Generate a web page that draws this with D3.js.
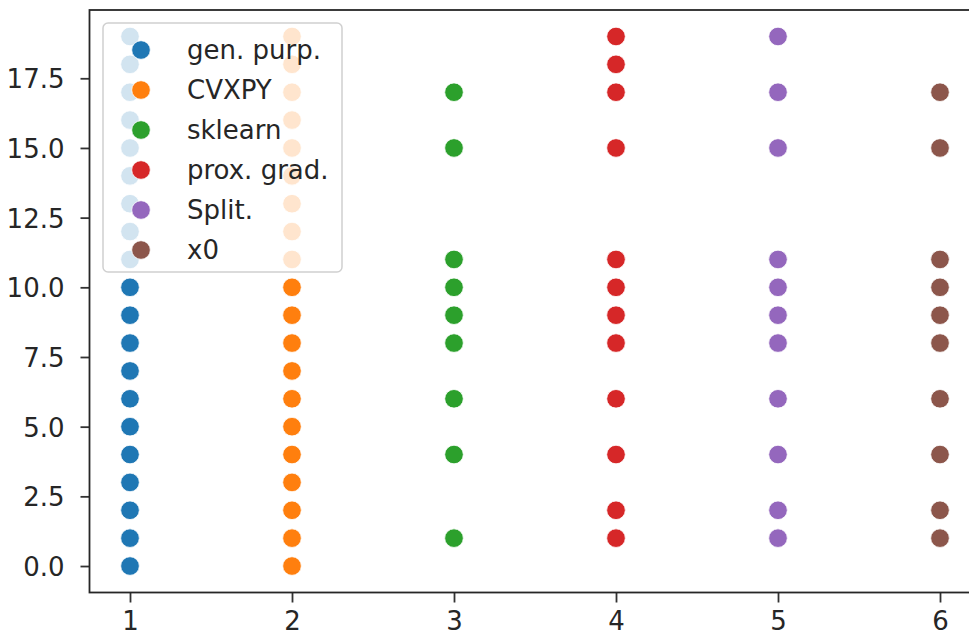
<!DOCTYPE html>
<html>
<head>
<meta charset="utf-8">
<script src="https://cdn.jsdelivr.net/npm/d3@7"></script>
<style>
  body { margin: 0; background: #fff; }
  svg text { font-family: "DejaVu Sans", sans-serif; fill: #262626; }
</style>
</head>
<body>
<div id="chart"></div>
<script>
// series names, x position of each series and the y values
const seriesNames = ['gen. purp.', 'CVXPY', 'sklearn', 'prox. grad.', 'Split.', 'x0'];
const seriesX = [1, 2, 3, 4, 5, 6];
const genPurpValues = [0, 1, 2, 3, 4, 5, 6, 7, 8, 9, 10, 11, 12, 13, 14, 15, 16, 17, 18, 19];
const cvxpyValues = [0, 1, 2, 3, 4, 5, 6, 7, 8, 9, 10, 11, 12, 13, 14, 15, 16, 17, 18, 19];
const sklearnValues = [1, 4, 6, 8, 9, 10, 11, 15, 17];
const proxGradValues = [1, 2, 4, 6, 8, 9, 10, 11, 15, 17, 18, 19];
const splitValues = [1, 2, 4, 6, 8, 9, 10, 11, 15, 17, 19];
const x0Values = [1, 2, 4, 6, 8, 9, 10, 11, 15, 17];
const xTicks = [1, 2, 3, 4, 5, 6];
const yTicks = [0, 2.5, 5, 7.5, 10, 12.5, 15, 17.5];

const colors = ['#1f77b4', '#ff7f0e', '#2ca02c', '#d62728', '#9467bd', '#8c564b'];
const allValues = [genPurpValues, cvxpyValues, sklearnValues, proxGradValues, splitValues, x0Values];

const width = 969, height = 634;
const plot = { left: 89.5, right: 980.5, top: 10, bottom: 592.5 };

const svg = d3.select('#chart').append('svg')
    .attr('width', width)
    .attr('height', height);

const x = d3.scaleLinear().domain([0.75, 6.25]).range([plot.left, plot.right]);
const y = d3.scaleLinear().domain([-0.95, 19.95]).range([plot.bottom, plot.top]);

// points
allValues.forEach((vals, i) => {
    svg.append('g')
        .selectAll('circle')
        .data(vals)
        .enter().append('circle')
        .attr('cx', x(seriesX[i]))
        .attr('cy', d => y(d))
        .attr('r', 9.3)
        .attr('fill', colors[i])
        .attr('stroke', '#fff')
        .attr('stroke-width', 0.8);
});

// axes
const xAxis = svg.append('g')
    .attr('transform', `translate(0,${plot.bottom})`)
    .call(d3.axisBottom(x).tickValues(xTicks).tickFormat(d3.format('d')).tickSize(10).tickPadding(9));
const yAxis = svg.append('g')
    .attr('transform', `translate(${plot.left},0)`)
    .call(d3.axisLeft(y).tickValues(yTicks).tickFormat(d3.format('.1f')).tickSize(9).tickPadding(16));

[xAxis, yAxis].forEach(g => {
    g.select('.domain').remove();
    g.selectAll('.tick line').attr('stroke', '#333').attr('stroke-width', 1.8);
    g.selectAll('.tick text').attr('font-size', 26).attr('font-family', '"DejaVu Sans", sans-serif').attr('fill', '#262626');
});
yAxis.selectAll('.tick text').attr('dy', '0.36em');

// spines
svg.append('rect')
    .attr('x', plot.left)
    .attr('y', plot.top)
    .attr('width', plot.right - plot.left)
    .attr('height', plot.bottom - plot.top)
    .attr('fill', 'none')
    .attr('stroke', '#262626')
    .attr('stroke-width', 1.8);

// legend
const legend = svg.append('g').attr('transform', 'translate(103,23)');
legend.append('rect')
    .attr('width', 239)
    .attr('height', 249)
    .attr('rx', 5)
    .attr('fill', '#fff')
    .attr('fill-opacity', 0.8)
    .attr('stroke', '#d0d0d0')
    .attr('stroke-width', 1.5);

const rows = legend.selectAll('.row')
    .data(seriesNames)
    .enter().append('g')
    .attr('transform', (d, i) => `translate(0,${27 + i * 40})`);
rows.append('circle')
    .attr('cx', 38)
    .attr('r', 9.3)
    .attr('fill', (d, i) => colors[i])
    .attr('stroke', '#fff')
    .attr('stroke-width', 0.8);
rows.append('text')
    .attr('x', 84)
    .attr('dy', '0.36em')
    .attr('font-size', 26)
    .text(d => d);
</script>
</body>
</html>
